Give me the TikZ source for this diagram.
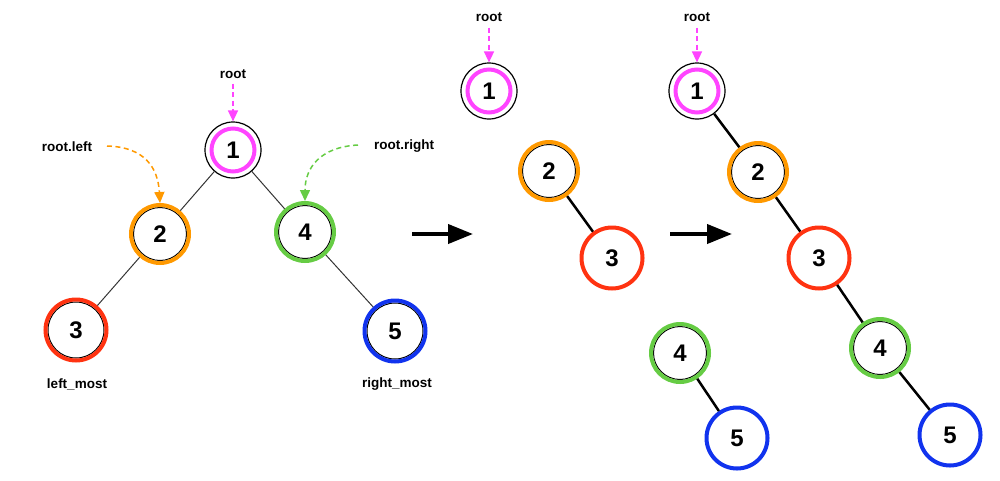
\documentclass[tikz,border=0pt]{standalone}
\usepackage{fontspec}
\setmainfont{Liberation Sans}
\usetikzlibrary{arrows.meta}
\definecolor{cmag}{HTML}{FF44FF}
\definecolor{corange}{HTML}{FF9900}
\definecolor{cgreen}{HTML}{66CC44}
\definecolor{cred}{HTML}{FF3311}
\definecolor{cblue}{HTML}{1133EE}
\begin{document}
\begin{tikzpicture}[x=1pt,y=-1pt,
 num/.style={circle,inner sep=0pt,font=\bfseries\fontsize{24}{24}\selectfont},
 rootnode/.style={num,draw=black,line width=1.2pt,minimum size=56pt,
   path picture={\draw[cmag,line width=4pt] (path picture bounding box.center) circle (21.5pt);}},
 ring/.style={num,draw=#1,line width=4pt,minimum size=58pt},
 bigring/.style={ring=#1,minimum size=61pt},
 ringin/.style={ring=#1,path picture={\draw[black,line width=1pt] (path picture bounding box.center) circle (26.5pt);}},
 bigringin/.style={bigring=#1,path picture={\draw[black,line width=1pt] (path picture bounding box.center) circle (28pt);}},
 lbl/.style={font=\bfseries\fontsize{13.5}{14}\selectfont,inner sep=1pt},
 pointer/.style={#1,line width=1.5pt,dash pattern=on 5pt off 3.5pt,-{Triangle[length=11pt,width=10pt]}},
 thinedge/.style={black!80,line width=1pt},
 thickedge/.style={black,line width=2.5pt},
 bigarrow/.style={black,line width=4pt,-{Triangle[length=25pt,width=19pt]}}
]
\useasboundingbox (0,0) rectangle (1000,480);

% ---------- left tree ----------
\node[rootnode] (A1) at (233,150) {1};
\node[ringin=corange] (A2) at (160,234) {2};
\node[ringin=cgreen] (A4) at (305,232) {4};
\node[bigringin=cred] (A3) at (76,330) {3};
\node[bigringin=cblue] (A5) at (395,331) {5};
\draw[thinedge] (A1) -- (A2);
\draw[thinedge] (A1) -- (A4);
\draw[thinedge] (A2) -- (A3);
\draw[thinedge] (A4) -- (A5);

\node[lbl] (Aroot) at (233,74) {root};
\draw[pointer=cmag,shorten <=4pt] (Aroot.south) -- (A1.north);
\node[lbl] (Aleft) at (67,147) {root.left};
\coordinate (Als) at (107,146);
\draw[pointer=corange] (Als) .. controls (145,147) and (158,168) .. (A2.north);
\node[lbl] (Aright) at (404,146) {root.right};
\coordinate (Ars) at (358,145);
\draw[pointer=cgreen] (Ars) .. controls (320,147) and (305,168) .. (A4.north);
\node[lbl] (Alm) at (77,384) {left\_most};
\node[lbl] (Arm) at (397,384) {right\_most};

% ---------- arrows ----------
\coordinate (B1s) at (412,234);
\coordinate (B1e) at (473,234);
\draw[bigarrow] (B1s) -- (B1e);
\coordinate (B2s) at (670,234);
\coordinate (B2e) at (732,234);
\draw[bigarrow] (B2s) -- (B2e);

% ---------- middle ----------
\node[rootnode] (M1) at (489,91) {1};
\node[ringin=corange] (M2) at (549,171) {2};
\node[bigring=cred] (M3) at (612,258) {3};
\node[ringin=cgreen] (M4) at (680,353) {4};
\node[bigring=cblue] (M5) at (737,438) {5};
\draw[thickedge] (M2) -- (M3);
\draw[thickedge] (M4) -- (M5);
\node[lbl] (Mroot) at (489,17) {root};
\draw[pointer=cmag,shorten <=5pt] (Mroot.south) -- (M1.north);

% ---------- right ----------
\node[rootnode] (R1) at (697,91) {1};
\node[ringin=corange] (R2) at (758,172) {2};
\node[bigring=cred] (R3) at (819,258) {3};
\node[ringin=cgreen] (R4) at (880,348) {4};
\node[bigring=cblue] (R5) at (950,435) {5};
\draw[thickedge] (R1) -- (R2);
\draw[thickedge] (R2) -- (R3);
\draw[thickedge] (R3) -- (R4);
\draw[thickedge] (R4) -- (R5);
\node[lbl] (Rroot) at (697,17) {root};
\draw[pointer=cmag,shorten <=5pt] (Rroot.south) -- (R1.north);
\end{tikzpicture}
\end{document}
